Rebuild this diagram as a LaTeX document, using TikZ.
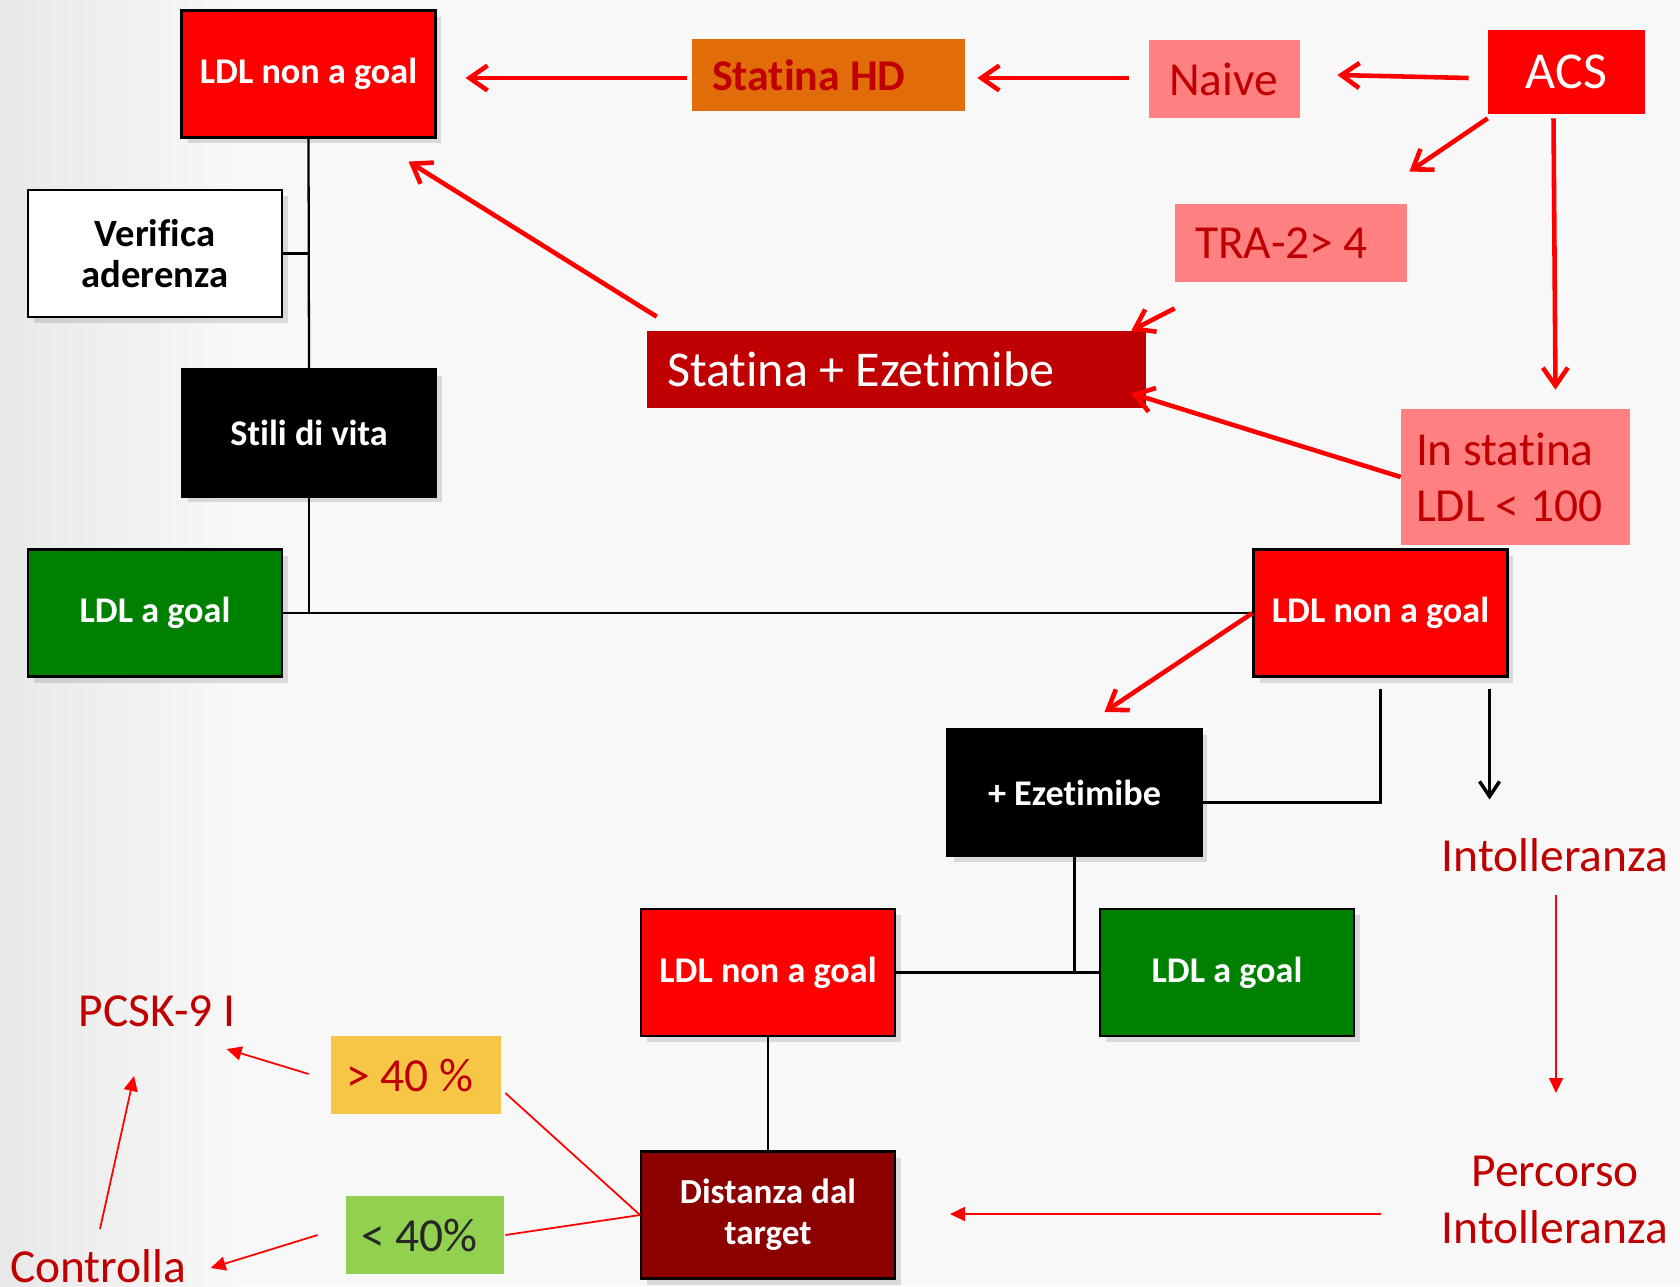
\documentclass[tikz,border=0pt]{standalone}
\usepackage{fontspec}
\setmainfont{Carlito}[Ligatures=NoCommon]
\usetikzlibrary{arrows.meta,calc,shadows}

\definecolor{boxred}{HTML}{FF0000}
\definecolor{darkred}{HTML}{C00000}
\definecolor{pinkred}{HTML}{FF8080}
\definecolor{orangehd}{HTML}{E36C0A}
\definecolor{goalgreen}{HTML}{008000}
\definecolor{distred}{HTML}{8C0000}
\definecolor{goldbox}{HTML}{F8C647}
\definecolor{lightgreen}{HTML}{92D050}
\definecolor{bg}{HTML}{F8F8F8}

\begin{document}
\begin{tikzpicture}[x=0.02cm, y=-0.02cm,
    box/.style={draw=black, line width=1.2pt, minimum width=5.08cm, minimum height=2.54cm,
        inner sep=0pt, align=center, text=white, font=\bfseries\fontsize{20.6}{23.2}\selectfont,
        drop shadow={shadow xshift=0.12cm, shadow yshift=-0.12cm, opacity=0.25}},
    flat/.style={inner xsep=0.4cm, inner ysep=0pt, align=flush left, text=darkred,
        font=\fontsize{27}{32}\selectfont},
    lbl/.style={text=darkred, inner sep=2pt, font=\fontsize{27}{32.4}\selectfont},
    conn/.style={draw=black, line width=1.3pt},
    redarr/.style={draw=boxred, line width=2.6pt, -{Straight Barb[length=0.36cm, width=0.5cm]}},
    thinarr/.style={draw=boxred, line width=1pt, -{Triangle[length=0.3cm, width=0.28cm]}},
    thinline/.style={draw=boxred, line width=1pt},
    blkarr/.style={draw=black, line width=2pt, -{Straight Barb[length=0.3cm, width=0.4cm]}}]

    % Background
    \useasboundingbox (0,0) rectangle (1680,1286);
    \fill[bg] (0,0) rectangle (1680,1286);
    \shade[left color=black!9, right color=bg] (0,0) rectangle (240,1286);

    % Left column
    \node[box, fill=boxred] (goal1) at (308.5,74) {LDL non a goal};
    \node[box, fill=white, text=black, font=\bfseries\fontsize{22}{23.2}\selectfont] (verif) at (155,253.5) {Verifica\\aderenza};
    \node[box, fill=black] (stili) at (309,433) {Stili di vita};
    \node[box, fill=goalgreen] (okL) at (155,613) {LDL a goal};

    % Top row
    \node[flat, fill=orangehd, font=\bfseries\fontsize{25}{28}\selectfont, text width=4.66cm, minimum height=1.44cm] (statHD) at (828.5,75) {Statina HD};
    \node[flat, fill=pinkred, text width=2.22cm, minimum height=1.56cm] (naive) at (1224.5,79) {Naive};
    \node[flat, fill=boxred, text=white, align=center, font=\fontsize{29.5}{32}\selectfont, text width=2.34cm, minimum height=1.68cm] (acs) at (1566.5,72) {ACS};
    \node[flat, fill=pinkred, text width=3.84cm, minimum height=1.56cm] (tra) at (1291,243) {TRA-2> 4};
    \node[flat, fill=darkred, text=white, font=\fontsize{28.5}{32}\selectfont, text width=9.18cm, minimum height=1.54cm] (statEz) at (896.5,369.5) {Statina + Ezetimibe};
    \node[flat, fill=pinkred, inner xsep=0.3cm, text width=3.98cm, minimum height=2.72cm] (inStat) at (1515.5,477) {In statina\\LDL < 100};

    % Right and lower part
    \node[box, fill=boxred] (goal2) at (1380.5,613) {LDL non a goal};
    \node[box, fill=black] (ezet) at (1074.5,792.5) {+ Ezetimibe};
    \node[box, fill=goalgreen] (okM) at (1227,972.5) {LDL a goal};
    \node[box, fill=boxred] (goal3) at (768,972.5) {LDL non a goal};
    \node[box, fill=distred, font=\bfseries\fontsize{20}{23.2}\selectfont] (dist) at (768,1215) {Distanza dal\\target};

    \node[flat, fill=goldbox, inner xsep=0.3cm, text width=2.8cm, minimum height=1.56cm] (gt40) at (416,1075) {> 40 \%};
    \node[flat, fill=lightgreen, text=black!85, inner xsep=0.3cm, text width=2.56cm, minimum height=1.56cm] (lt40) at (425,1235) {< 40\%};

    % Labels
    \node[lbl, anchor=base] (intol) at (1555,871) {Intolleranza};
    \node[lbl, align=center] (perc) at (1555,1200) {Percorso\\Intolleranza};
    \node[lbl, anchor=base] (pcsk) at (157,1026) {PCSK-9 I};
    \node[lbl, anchor=base] (ctrl) at (98,1282) {Controlla};

    % Black connectors
    \draw[conn] (goal1.south) -- (stili.north);
    \draw[conn] (verif.east) -- (verif.east -| goal1.south);
    \draw[conn] (stili.south) |- (okL.east);
    \draw[conn] (okL.east) -- (goal2.west);
    \draw[conn] ($(goal2.south)+(0,11)$) |- ([yshift=-0.2cm]ezet.east);
    \draw[conn] (ezet.south) |- (goal3.east);
    \draw[conn] (goal3.east) -- (okM.west);
    \draw[conn] (goal3.south) -- (dist.north);
    \draw[blkarr] ($(goal2.south east)+(-19,11)$) -- ($(goal2.south east)+(-19,122)$);

    % Red arrows
    \draw[redarr] ($(statHD.west)+(-5,3)$) -- ($(goal1.east)+(29,4)$);
    \draw[redarr] ($(naive.west)+(-20,-1)$) -- ($(statHD.east)+(12,3)$);
    \draw[redarr] ($(acs.west)+(-19,6)$) -- ($(naive.east)+(37,-4)$);
    \draw[redarr] ($(acs.south west)+(0,4)$) -- ($(tra.north east)+(2,-32)$);
    \draw[redarr] ($(acs.south)+(-13,4)$) -- ($(inStat.north)+(40,-19)$);
    \draw[redarr] ($(tra.south west)+(0,26)$) -- ($(statEz.north east)+(-15,0)$);
    \draw[redarr] (inStat.west) -- ($(statEz.south east)+(-15,-15)$);
    \draw[redarr] ($(statEz.north west)+(10,-14)$) -- ($(goal1.south east)+(-28,23)$);
    \draw[redarr] (goal2.west) -- ($(ezet.north)+(30,-16)$);

    % Thin red arrows
    \draw[thinarr] ($(intol.base)+(1,24)$) -- ($(intol.base)+(1,222)$);
    \draw[thinarr] ($(dist.east)+(485,-1)$) -- ($(dist.east)+(54,-1)$);
    \draw[thinline] (dist.west) -- ($(gt40.east)+(4,18)$);
    \draw[thinline] (dist.west) -- ($(lt40.east)+(1,0)$);
    \draw[thinarr] ($(gt40.west)+(-22,-1)$) -- ($(gt40.west)+(-104,-26)$);
    \draw[thinarr] ($(lt40.west)+(-28,0)$) -- ($(lt40.west)+(-135,33)$);
    \draw[thinarr] ($(ctrl.base)+(2,-53)$) -- ($(ctrl.base)+(36,-206)$);
\end{tikzpicture}
\end{document}
